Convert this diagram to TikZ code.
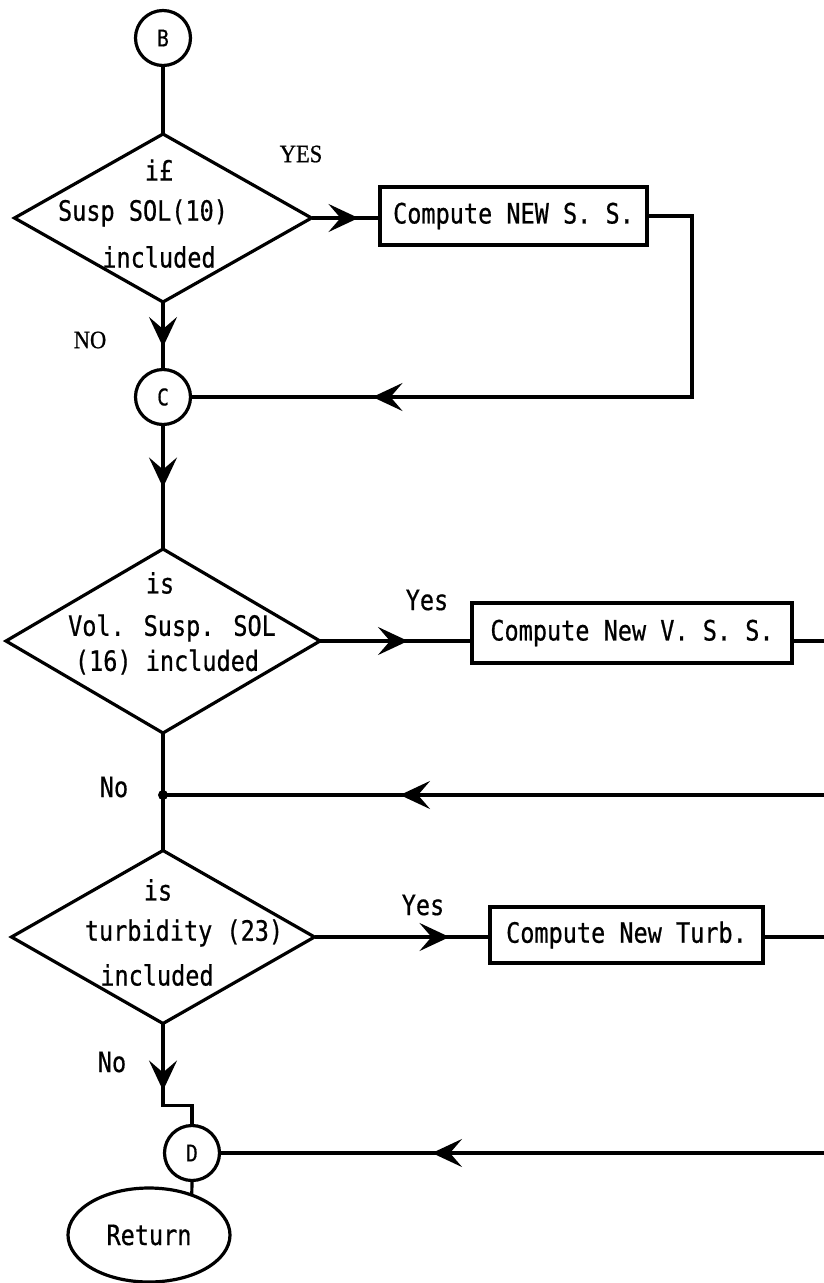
\documentclass[tikz,border=0pt]{standalone}
\usepackage{fontspec}
\usetikzlibrary{shapes.geometric,arrows.meta,decorations.markings}
\newfontfamily\monof[FakeStretch=0.84,FakeBold=0.6]{DejaVu Sans Mono}
\newfontfamily\seriff[FakeStretch=0.9,FakeBold=0.8]{Liberation Serif}
\begin{document}
\begin{tikzpicture}[x=1pt,y=-1pt, line width=3.2pt,
  every node/.style={inner sep=0pt, outer sep=0pt},
  txt/.style={font=\monof\fontsize{28}{30}\selectfont},
  stxt/.style={font=\seriff\fontsize{25}{27}\selectfont},
  conn/.style={draw, circle, minimum size=55pt, font=\monof\fontsize{23}{25}\selectfont},
  dec/.style={draw, diamond, minimum width=#1},
  proc/.style={draw, rectangle, txt},
  term/.style={draw, ellipse, minimum width=162pt, minimum height=94pt, txt},
  marr/.style={postaction={decorate, decoration={markings,
      mark=at position #1 with {\arrow{Stealth[length=30pt,width=28pt,inset=12pt]}}}}}
]
\useasboundingbox (0,0) rectangle (824,1283);

% nodes
\node[conn] (B) at (163,38) {B};
\node[dec=297pt, minimum height=168pt] (d1) at (163,218) {};
\node[txt] (t1a) at (159,170) {i£};
\node[txt] (t1b) at (143,213) {Susp SOL(10)};
\node[txt] (t1c) at (159,257) {included};
\node[stxt] (yes1) at (301,154) {YES};
\node[stxt] (no1) at (90,340) {NO};
\node[proc, minimum width=267pt, minimum height=58pt] (box1) at (513.5,216) {Compute NEW S. S.};
\node[conn] (C) at (163,397) {C};

\node[dec=314pt, minimum height=184pt] (d2) at (163,641) {};
\node[txt] (t2a) at (160,583) {is};
\node[txt] (t2b) at (172,628) {Vol. Susp. SOL};
\node[txt] (t2c) at (167,662) {(16) included};
\node[txt] (yes2) at (427,600) {Yes};
\node[txt] (no2) at (114,787) {No};
\node[proc, minimum width=320pt, minimum height=60pt] (box2) at (632,633) {Compute New V. S. S.};
\coordinate (J) at (163,795);
\coordinate (e2) at (824,641);
\coordinate (r2) at (824,795);

\node[dec=303pt, minimum height=173pt] (d3) at (163,937) {};
\node[txt] (t3a) at (158,890) {is};
\node[txt] (t3b) at (184,933) {turbidity (23)};
\node[txt] (t3c) at (157,975) {included};
\node[txt] (yes3) at (423,905) {Yes};
\node[txt] (no3) at (112,1062) {No};
\node[proc, minimum width=273pt, minimum height=56pt] (box3) at (626.5,935) {Compute New Turb.};
\coordinate (e3) at (824,937);
\coordinate (r3) at (824,1153);

\node[conn] (D) at (192,1153) {D};
\node[term] (ret) at (149,1235) {Return};

% connectors
\draw (B) -- (d1.north);
\draw[marr=45pt] (d1.south) -- (C.north);
\draw[marr=47pt] (d1.east) -- (d1.east -| box1.west);
\draw[marr=-182pt] (box1.east) -- ++(45,0) |- (C.east);
\draw[marr=63pt] (C.south) -- (d2.north);
\draw[marr=88pt] (d2.east) -- (d2.east -| box2.west);
\draw (box2.east |- e2) -- (e2);
\draw (d2.south) -- (J) -- (d3.north);
\fill (J) circle (5pt);
\draw[marr=424pt] (r2) -- (J);
\draw[marr=135pt] (d3.east) -- (d3.east -| box3.west);
\draw (box3.east |- e3) -- (e3);
\draw[marr=67pt] (d3.south) -- ++(0,82) -| (D.north);
\draw[marr=392pt] (r3) -- (D.east);
\draw (D.south) -- (ret.43);
\end{tikzpicture}
\end{document}
